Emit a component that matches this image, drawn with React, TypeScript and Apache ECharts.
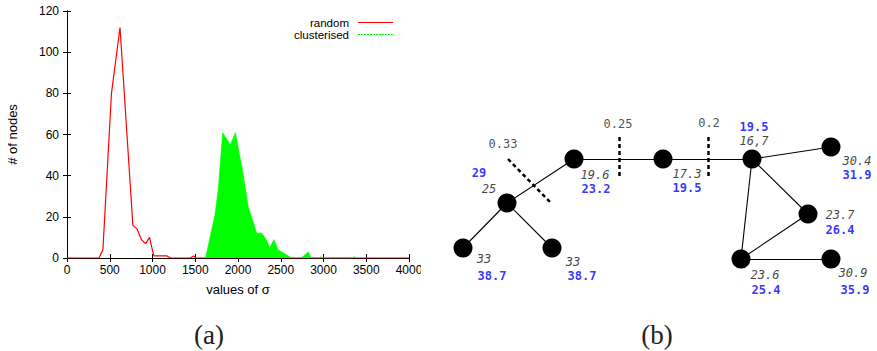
import React, { useEffect, useRef } from "react";
import * as echarts from "echarts";

// ---- Panel (a): histogram of sigma ----
const randomSigma = [0, 375, 420, 520, 620, 770, 820, 870, 920, 965, 1015, 1170, 1210, 1440, 1480, 1510, 4000];
const randomCount = [0, 0, 4, 80, 112, 16, 14, 9, 7, 10, 1, 1, 0, 0, 1, 0, 0];

const clusterSigma = [1600, 1620, 1730, 1770, 1820, 1910, 1970, 2060, 2120, 2220, 2280, 2330, 2370, 2420, 2470, 2630, 2740, 2820, 2860, 2950, 2970, 2990, 3340, 3360, 3380];
const clusterCount = [0, 0, 21, 34, 61, 55, 61, 41, 25, 12, 12, 9, 5, 9, 4, 0, 0, 3, 0, 0, 0.7, 0, 0, 0.7, 0];

const seriesNames = ["random", "clusterised"];

// ---- Panel (b): network diagram ----
const nodeNames = ["A", "B", "C", "D", "E", "F", "G", "H", "I", "J"];
const nodeX = [134, 67, 23, 112, 223, 312, 391, 368, 301, 391];
const nodeY = [59, 103, 148, 148, 59, 59, 47, 114, 159, 159];
const edges = [["A", "B"], ["B", "C"], ["B", "D"], ["A", "E"], ["E", "F"], ["F", "G"], ["F", "H"], ["F", "I"], ["H", "I"], ["I", "J"]];
const sigmaItalic = ["19.6", "25", "33", "33", "17.3", "16,7", "30.4", "23.7", "23.6", "30.9"];
const sigmaBlue = ["23.2", "29", "38.7", "38.7", "19.5", "19.5", "31.9", "26.4", "25.4", "35.9"];
const cutSegments = [
  [[68, 59], [112, 104]],
  [[179, 37], [179, 76]],
  [[268, 37], [268, 76]],
];
const cutWeights = ["0.33", "0.25", "0.2"];

// label offsets (style)
const italicOffsets = [[21, 16], [-18, -14], [21, 11], [21, 14], [24, 15], [2, -18], [26, 14], [32, 1], [24, 16], [22, 14]];
const blueOffsets = [[22, 30], [-28, -30], [29, 28], [30, 28], [24, 29], [2, -32], [26, 28], [32, 16], [25, 31], [24, 31]];
const cutLabelOffsets = [[-5, -15], [-1, -13], [1, -14]];

const SANS = "Liberation Sans";
const MONO = "DejaVu Sans Mono";
const SERIF = "Liberation Serif";

export default function App() {
  const ref = useRef<HTMLDivElement>(null);
  useEffect(() => {
    if (!ref.current) return;
    const chart = echarts.init(ref.current, undefined, { renderer: "svg" });
    const axisCommon = {
      axisLine: { show: true, lineStyle: { color: "#000", width: 1 } },
      axisTick: { show: true, inside: true, length: 4, lineStyle: { color: "#000", width: 1 } },
      splitLine: { show: false },
    };
    const fmt = (v: number) => String(v);
    const option: any = {
      animation: false,
      backgroundColor: "#fff",
      grid: [
        { left: 67, top: 11, width: 342, height: 247 },
        { left: 440, top: 100, width: 437, height: 210 },
      ],
      xAxis: [
        {
          ...axisCommon,
          type: "value", gridIndex: 0, min: 0, max: 4000, interval: 500, position: "bottom",
          axisLabel: { color: "#000", fontSize: 12, fontFamily: SANS, margin: 6, formatter: fmt },
          name: "values of σ", nameLocation: "middle", nameGap: 25,
          nameTextStyle: { color: "#000", fontSize: 13, fontFamily: SANS },
        },
        {
          ...axisCommon,
          type: "value", gridIndex: 0, min: 0, max: 4000, interval: 500, position: "top",
          axisLabel: { show: false },
        },
        { type: "value", gridIndex: 1, min: 0, max: 437, show: false },
      ],
      yAxis: [
        {
          ...axisCommon,
          type: "value", gridIndex: 0, min: 0, max: 120, interval: 20, position: "left",
          axisLabel: { color: "#000", fontSize: 12, fontFamily: SANS, margin: 8, formatter: fmt },
          name: "# of nodes", nameLocation: "middle", nameGap: 48, nameRotate: 90,
          nameTextStyle: { color: "#000", fontSize: 13, fontFamily: SANS },
        },
        {
          ...axisCommon,
          type: "value", gridIndex: 0, min: 0, max: 120, interval: 20, position: "right",
          axisLabel: { show: false },
        },
        { type: "value", gridIndex: 1, min: 0, max: 210, inverse: true, show: false },
      ],
      series: [
        {
          name: seriesNames[0], type: "line", xAxisIndex: 0, yAxisIndex: 0,
          data: randomSigma.map((x, i) => [x, randomCount[i]]),
          showSymbol: false, symbol: "none",
          lineStyle: { color: "#ff0000", width: 1.2 }, z: 2,
        },
        {
          name: seriesNames[1], type: "line", xAxisIndex: 0, yAxisIndex: 0,
          data: clusterSigma.map((x, i) => [x, clusterCount[i]]),
          showSymbol: false, symbol: "none",
          lineStyle: { color: "#00ff00", width: 0.5 },
          areaStyle: { color: "#00ff00", opacity: 1, origin: "start" }, z: 3,
        },
        {
          type: "lines", coordinateSystem: "cartesian2d", xAxisIndex: 2, yAxisIndex: 2,
          data: cutSegments.map((c) => ({ coords: c })),
          lineStyle: { color: "#000", width: 2.5, type: [4, 3], opacity: 1 },
          silent: true, z: 2,
        },
        {
          type: "graph", coordinateSystem: "cartesian2d", xAxisIndex: 2, yAxisIndex: 2,
          layout: "none", symbol: "circle", symbolSize: 19, roam: false,
          itemStyle: { color: "#000" },
          lineStyle: { color: "#000", width: 1.1, opacity: 1, curveness: 0 },
          label: { show: false },
          data: nodeNames.map((n, i) => ({ name: n, value: [nodeX[i], nodeY[i]] })),
          links: edges.map(([s, t]) => ({ source: s, target: t })),
          silent: true, z: 3,
        },
        {
          type: "scatter", xAxisIndex: 2, yAxisIndex: 2, symbolSize: 1, silent: true,
          itemStyle: { color: "rgba(0,0,0,0)" }, z: 5,
          data: nodeNames.map((n, i) => ({ value: [nodeX[i], nodeY[i]], label: { offset: italicOffsets[i] } })),
          label: {
            show: true, position: "inside", align: "center", verticalAlign: "middle",
            formatter: (p: any) => sigmaItalic[p.dataIndex],
            fontFamily: MONO, fontStyle: "italic", fontSize: 12, color: "#111",
          },
        },
        {
          type: "scatter", xAxisIndex: 2, yAxisIndex: 2, symbolSize: 1, silent: true,
          itemStyle: { color: "rgba(0,0,0,0)" }, z: 5,
          data: nodeNames.map((n, i) => ({ value: [nodeX[i], nodeY[i]], label: { offset: blueOffsets[i] } })),
          label: {
            show: true, position: "inside", align: "center", verticalAlign: "middle",
            formatter: (p: any) => sigmaBlue[p.dataIndex],
            fontFamily: MONO, fontWeight: "bold", fontSize: 12, color: "#0000ff",
          },
        },
        {
          type: "scatter", xAxisIndex: 2, yAxisIndex: 2, symbolSize: 1, silent: true,
          itemStyle: { color: "rgba(0,0,0,0)" }, z: 5,
          data: cutSegments.map((c, i) => ({ value: c[0], label: { offset: cutLabelOffsets[i] } })),
          label: {
            show: true, position: "inside", align: "center", verticalAlign: "middle",
            formatter: (p: any) => cutWeights[p.dataIndex],
            fontFamily: MONO, fontSize: 12, color: "#222",
          },
        },
      ],
      graphic: [
        { type: "rect", shape: { x: 421, y: 261, width: 14, height: 18 }, style: { fill: "#fff" }, z: 100 },
        { type: "text", style: { text: seriesNames[0], x: 349, y: 22.5, align: "right", verticalAlign: "middle", fontSize: 11.5, fontFamily: SANS, fill: "#000" } },
        { type: "text", style: { text: seriesNames[1], x: 349, y: 34.5, align: "right", verticalAlign: "middle", fontSize: 11.5, fontFamily: SANS, fill: "#000" } },
        { type: "line", shape: { x1: 358, y1: 22.5, x2: 393, y2: 22.5 }, style: { stroke: "#ff0000", lineWidth: 1 } },
        { type: "line", shape: { x1: 358, y1: 34.5, x2: 393, y2: 34.5 }, style: { stroke: "#00ff00", lineWidth: 1, lineDash: [2, 1] } },
        { type: "text", style: { text: "(a)", x: 209, y: 335, align: "center", verticalAlign: "middle", fontSize: 27, fontFamily: SERIF, fill: "#222" } },
        { type: "text", style: { text: "(b)", x: 657, y: 335, align: "center", verticalAlign: "middle", fontSize: 27, fontFamily: SERIF, fill: "#222" } },
      ],
    };
    chart.setOption(option);
    return () => chart.dispose();
  }, []);
  return (
    <div
      ref={ref}
      style={{ position: "absolute", left: 0, top: 0, width: 877, height: 351, background: "#fff" }}
    />
  );
}
